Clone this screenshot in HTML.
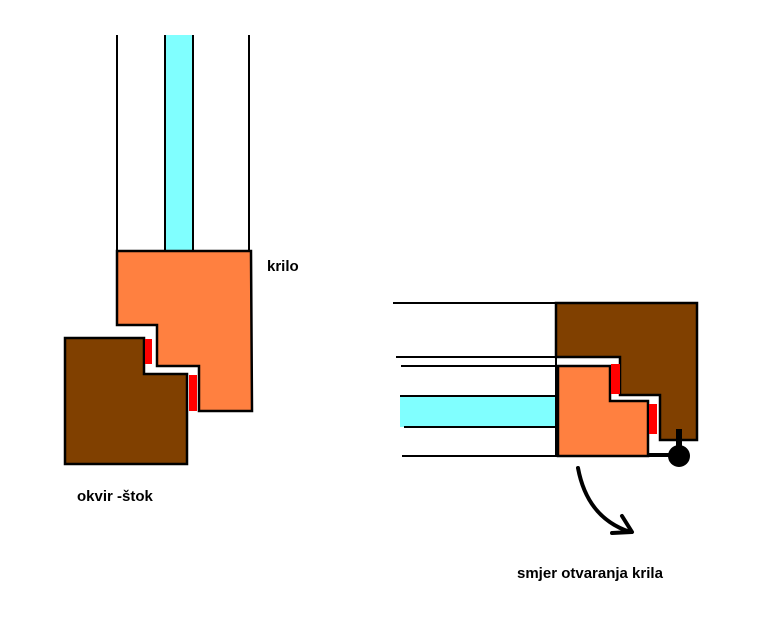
<!DOCTYPE html>
<html><head><style>body{margin:0;background:#fff}svg{display:block}text{font-family:"Liberation Sans",sans-serif;font-size:15px;font-weight:bold;fill:#000}</style></head>
<body>
<svg width="775" height="644" viewBox="0 0 775 644" xmlns="http://www.w3.org/2000/svg">
<rect width="775" height="644" fill="#fff"/>
<rect x="165" y="35" width="28" height="216" fill="#80ffff"/>
<line x1="165" y1="35" x2="165" y2="251" stroke="#000" stroke-width="2"/>
<line x1="193" y1="35" x2="193" y2="251" stroke="#000" stroke-width="2"/>
<line x1="117" y1="35" x2="117" y2="251" stroke="#000" stroke-width="2"/>
<line x1="249" y1="35" x2="249" y2="251" stroke="#000" stroke-width="2"/>
<polygon points="117,251 251,251 252,411 199,411 199,366 157,366 157,325 117,325" fill="#ff8040" stroke="#000" stroke-width="2.5"/>
<polygon points="65,338 144,338 144,374 187,374 187,464 65,464" fill="#804000" stroke="#000" stroke-width="2.5"/>
<rect x="145" y="339" width="7" height="25" fill="#f00"/>
<rect x="189" y="375" width="8" height="36" fill="#f00"/>
<text x="267" y="271">krilo</text>
<text x="77" y="501">okvir -štok</text>
<rect x="400" y="396" width="156" height="31" fill="#80ffff"/>
<line x1="393" y1="303" x2="556" y2="303" stroke="#000" stroke-width="2"/>
<line x1="396" y1="357" x2="620" y2="357" stroke="#000" stroke-width="2"/>
<line x1="401" y1="366" x2="610" y2="366" stroke="#000" stroke-width="2"/>
<line x1="400" y1="396" x2="556" y2="396" stroke="#000" stroke-width="2"/>
<line x1="404" y1="427" x2="556" y2="427" stroke="#000" stroke-width="2"/>
<line x1="402" y1="456" x2="558" y2="456" stroke="#000" stroke-width="2"/>
<polygon points="556,303 697,303 697,440 660,440 660,395 620,395 620,357 556,357" fill="#804000" stroke="#000" stroke-width="2.5"/>
<polygon points="558,366 610,366 610,401 648,401 648,456 558,456" fill="#ff8040" stroke="#000" stroke-width="2.5"/>
<line x1="556" y1="357" x2="556" y2="456" stroke="#000" stroke-width="2"/>
<rect x="611" y="364" width="9" height="30" fill="#f00"/>
<rect x="649" y="404" width="8" height="30" fill="#f00"/>
<line x1="648" y1="455" x2="672" y2="455" stroke="#000" stroke-width="4"/>
<rect x="676" y="429" width="6" height="20" fill="#000"/>
<circle cx="679" cy="456" r="11" fill="#000"/>
<path d="M578,468 C584,500 600,522 630,532" fill="none" stroke="#000" stroke-width="4" stroke-linecap="round"/>
<path d="M622,516 L632,532 L612,533" fill="none" stroke="#000" stroke-width="4" stroke-linecap="round" stroke-linejoin="round"/>
<text x="517" y="578">smjer otvaranja krila</text>
</svg>
</body></html>
